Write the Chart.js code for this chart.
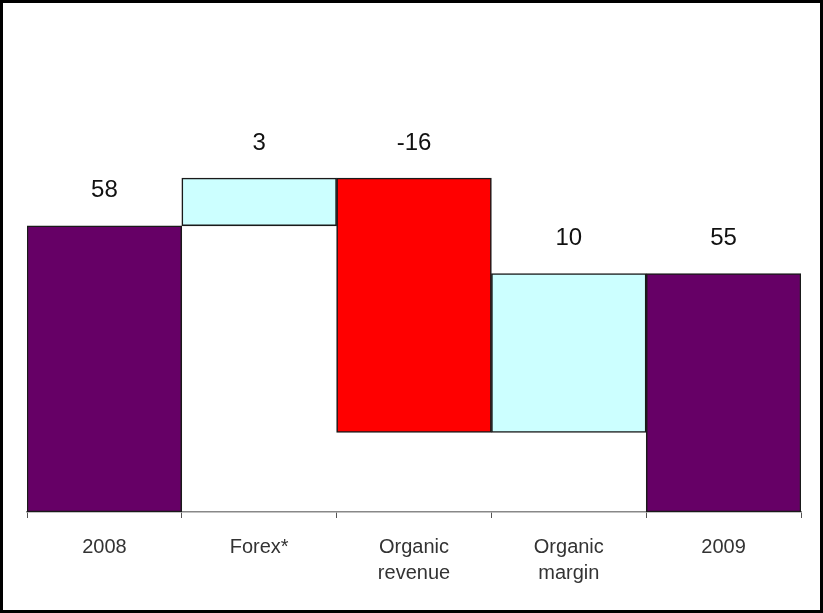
<!DOCTYPE html>
<html lang="en">
<head>
  <meta charset="UTF-8" />
  <title>Bridge 2008 - 2009</title>
  <script src="https://cdn.jsdelivr.net/npm/chart.js"></script>
  <style>
    html, body {
      margin: 0;
      padding: 0;
      background: #fff;
    }
    .frame {
      box-sizing: border-box;
      width: 823px;
      height: 613px;
      border: 3px solid #000;
      background: #fff;
    }
    canvas {
      display: block;
    }
  </style>
</head>
<body>
<div class="frame">
  <canvas id="bridgeChart" width="817" height="607"></canvas>
</div>

<script>
  // categories along the bottom axis
  const categories = ['2008', 'Forex*', ['Organic', 'revenue'], ['Organic', 'margin'], '2009'];
  // first and last are totals, the ones in between are changes
  const steps = [58, 3, -16, 10, 55];
  const kinds = ['total', 'delta', 'delta', 'delta', 'total'];

  const yMin = 40;
  const yMax = 70;

  const colors = {
    total: '#660066',
    up: '#CCFFFF',
    down: '#FF0000'
  };

  // turn the steps into floating [from, to] ranges
  const ranges = [];
  const fills = [];
  let running = 0;
  steps.forEach((v, i) => {
    if (kinds[i] === 'total') {
      ranges.push([yMin, v]);
      fills.push(colors.total);
      running = v;
    } else {
      ranges.push([running, running + v]);
      fills.push(v >= 0 ? colors.up : colors.down);
      running += v;
    }
  });

  // value written above each bar
  const valueLabels = {
    id: 'valueLabels',
    afterDatasetsDraw(chart) {
      const ctx = chart.ctx;
      const meta = chart.getDatasetMeta(0);
      const y = chart.scales.y;
      ctx.save();
      ctx.font = '24px "Liberation Sans", Arial, sans-serif';
      ctx.fillStyle = '#111';
      ctx.textAlign = 'center';
      ctx.textBaseline = 'middle';
      meta.data.forEach((bar, i) => {
        const top = y.getPixelForValue(Math.max(ranges[i][0], ranges[i][1]));
        ctx.fillText(String(steps[i]), bar.x, top - 35);
      });
      ctx.restore();
    }
  };

  new Chart(document.getElementById('bridgeChart'), {
    type: 'bar',
    data: {
      labels: categories,
      datasets: [{
        data: ranges,
        backgroundColor: fills,
        borderColor: '#1a1a1a',
        borderWidth: 1.6,
        borderSkipped: false,
        categoryPercentage: 1,
        barPercentage: 1
      }]
    },
    options: {
      responsive: false,
      animation: false,
      layout: {
        padding: { left: 24, right: 19, top: 32, bottom: 0 }
      },
      plugins: {
        legend: { display: false },
        tooltip: { enabled: false }
      },
      scales: {
        x: {
          offset: true,
          grid: {
            offset: true,
            drawOnChartArea: false,
            drawTicks: true,
            tickLength: 6,
            color: '#555'
          },
          border: { color: '#888', width: 1.5 },
          ticks: {
            padding: 16,
            color: '#333',
            font: { family: '"Liberation Sans", Arial, sans-serif', size: 20, lineHeight: 1.3 }
          },
          afterFit(scale) {
            scale.height = 98;
          }
        },
        y: {
          display: false,
          min: yMin,
          max: yMax
        }
      }
    },
    plugins: [valueLabels]
  });
</script>
</body>
</html>
